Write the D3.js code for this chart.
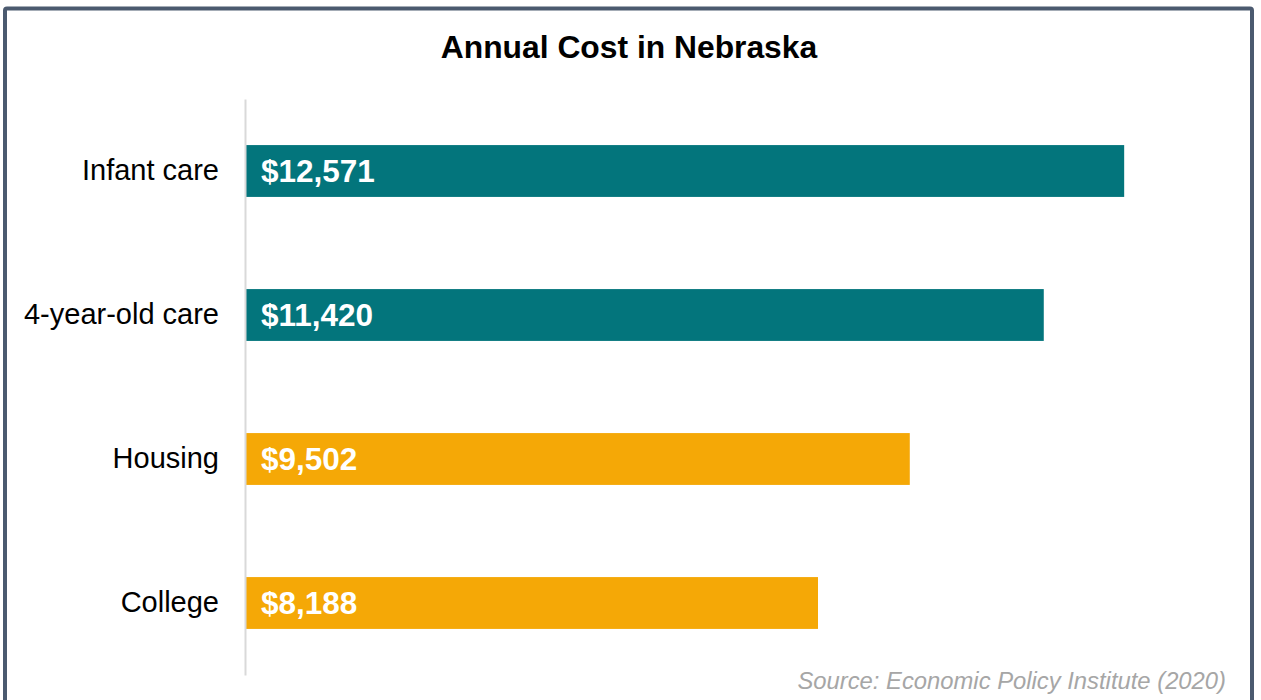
<!DOCTYPE html>
<html>
<head>
<meta charset="utf-8">
<script src="https://cdn.jsdelivr.net/npm/d3@7"></script>
<style>
  html, body { margin: 0; padding: 0; background: #ffffff; }
  svg { display: block; }
</style>
</head>
<body>
<svg id="chart" width="1261" height="700"></svg>
<script>
// Annual cost figures for Nebraska
const categories = ["Infant care", "4-year-old care", "Housing", "College"];
const costs = [12571, 11420, 9502, 8188];
const barColors = ["#03757c", "#03757c", "#f5a806", "#f5a806"];
const xDomain = [0, 14000];

const chartTitle = "Annual Cost in Nebraska";
const sourceNote = "Source: Economic Policy Institute (2020)";

const svg = d3.select("#chart");
const font = "'Liberation Sans', Arial, Helvetica, sans-serif";

// Frame
svg.append("rect")
  .attr("x", 5).attr("y", 8.5)
  .attr("width", 1247).attr("height", 730)
  .attr("rx", 2)
  .attr("fill", "#ffffff")
  .attr("stroke", "#4b5a6f")
  .attr("stroke-width", 4);

// Title
svg.append("text")
  .attr("x", 629).attr("y", 58)
  .attr("text-anchor", "middle")
  .attr("font-family", font)
  .attr("font-weight", "bold")
  .attr("font-size", 31.8)
  .attr("fill", "#000000")
  .text(chartTitle);

const x = d3.scaleLinear().domain(xDomain).range([246, 1224]);
const y = d3.scaleBand()
  .domain(categories)
  .range([99, 675])
  .paddingInner(0.64)
  .paddingOuter(0.32);

const data = categories.map((c, i) => ({ cat: c, value: costs[i], color: barColors[i] }));

// Bars
svg.append("g").selectAll("rect")
  .data(data)
  .join("rect")
  .attr("x", x(0))
  .attr("y", d => y(d.cat))
  .attr("width", d => x(d.value) - x(0))
  .attr("height", y.bandwidth())
  .attr("fill", d => d.color);

// Category axis
const yAxis = d3.axisLeft(y).tickSize(0).tickPadding(26);
const axisG = svg.append("g")
  .attr("transform", `translate(${x(0) - 1},0)`)
  .call(yAxis);
axisG.select(".domain")
  .attr("stroke", "#d9d9d9")
  .attr("stroke-width", 2);
axisG.selectAll(".tick text")
  .attr("font-family", font)
  .attr("font-size", 29)
  .attr("fill", "#000000");

// Value labels inside bars
const fmt = d3.format("$,");
svg.append("g").selectAll("text")
  .data(data)
  .join("text")
  .attr("x", x(0) + 15)
  .attr("y", d => y(d.cat) + y.bandwidth() / 2)
  .attr("dy", "0.36em")
  .attr("font-family", font)
  .attr("font-weight", "bold")
  .attr("font-size", 31.5)
  .attr("fill", "#ffffff")
  .text(d => fmt(d.value));

// Source note
svg.append("text")
  .attr("x", 1226).attr("y", 689)
  .attr("text-anchor", "end")
  .attr("font-family", font)
  .attr("font-style", "italic")
  .attr("font-size", 23.8)
  .attr("fill", "#a6a6a6")
  .text(sourceNote);
</script>
</body>
</html>
